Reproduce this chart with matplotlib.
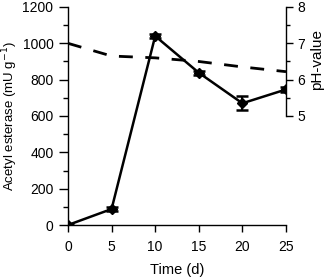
import matplotlib
matplotlib.use("Agg")
import numpy as np
from matplotlib import pyplot as plt
from matplotlib.ticker import MultipleLocator, FixedLocator

plt.rcParams['font.family'] = ['Liberation Sans', 'DejaVu Sans']

# data
time_d = [0, 5, 10, 15, 20, 25]
esterase = [0, 88, 1040, 838, 670, 746]
esterase_err = [6, 10, 12, 12, 38, 14]
ph_value = [7.0, 6.65, 6.6, 6.5, 6.35, 6.22]

fig = plt.figure(figsize=(3.31, 2.79), dpi=100)
ax = fig.add_axes([0.2054, 0.1935, 0.6586, 0.7815])

ax.errorbar(time_d, esterase, yerr=esterase_err, color='black', lw=1.8,
            marker='D', markersize=5.5, capsize=4, capthick=1.8, elinewidth=1.5)

ax.set_xlim(0, 25)
ax.set_ylim(0, 1200)
ax.xaxis.set_major_locator(MultipleLocator(5))
ax.yaxis.set_major_locator(MultipleLocator(200))
ax.yaxis.set_minor_locator(MultipleLocator(100))
ax.set_xlabel("Time (d)", fontsize=10.5, labelpad=6)
ax.set_ylabel("Acetyl esterase (mU g$^{-1}$)", fontsize=9.5)
ax.yaxis.set_label_coords(-0.222, 0.5)
ax.tick_params(which='both', direction='out', width=1, labelsize=10)
ax.tick_params(axis='y', which='major', length=6.5, pad=4)
ax.tick_params(axis='y', which='minor', length=3.5)
ax.tick_params(axis='x', which='major', length=5, pad=6)
ax.spines['top'].set_visible(False)
ax.spines['right'].set_visible(False)
for s in ('left', 'bottom'):
    ax.spines[s].set_linewidth(1)

ax2 = ax.twinx()
ax2.plot(time_d, ph_value, color='black', lw=2, dashes=(5, 4.5))
ax2.set_ylim(2, 8)
ax2.set_yticks([5, 6, 7, 8])
ax2.yaxis.set_minor_locator(FixedLocator([5.5, 6.5, 7.5]))
ax2.spines['right'].set_bounds(5, 8)
ax2.spines['right'].set_linewidth(1)
for s in ('top', 'left', 'bottom'):
    ax2.spines[s].set_visible(False)
ax2.tick_params(which='both', direction='out', width=1, labelsize=10)
ax2.tick_params(which='major', length=5, pad=3)
ax2.tick_params(which='minor', length=3)
ax2.set_ylabel("pH-value", fontsize=11)
ax2.yaxis.set_label_coords(1.11, 0.76)

fig.savefig("out.png", dpi=100)
